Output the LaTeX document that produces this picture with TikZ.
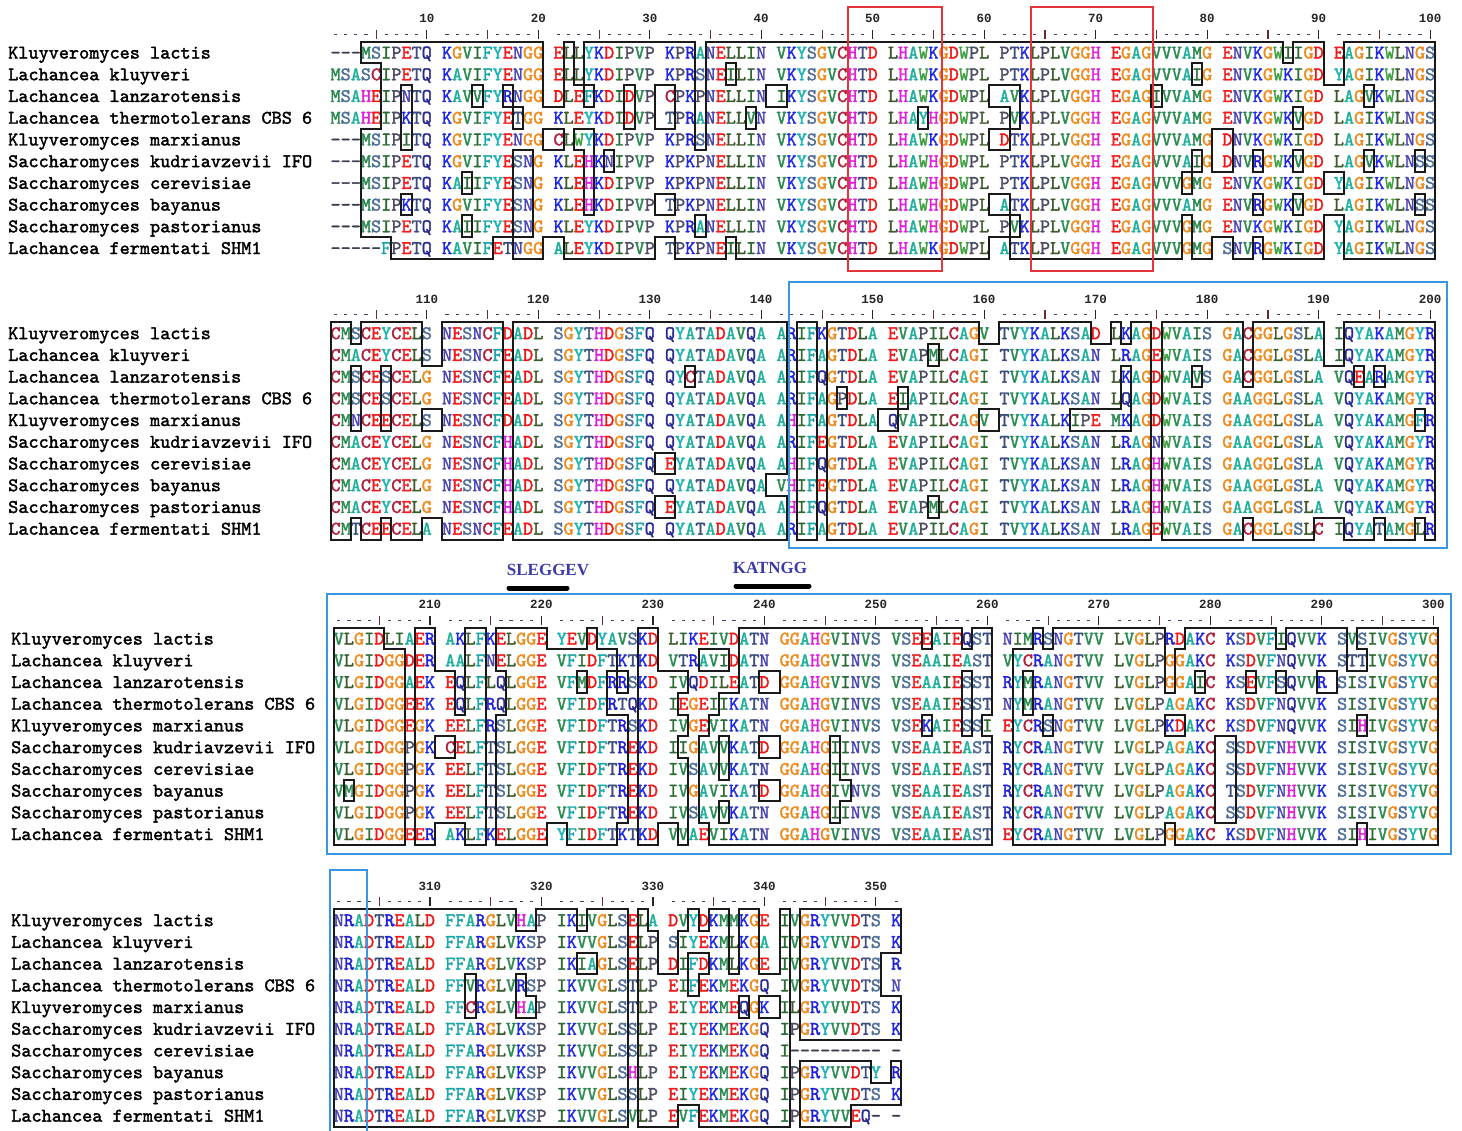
\documentclass[tikz,border=0pt]{standalone}
\usepackage{fontspec}
\newfontfamily\seqfam[FakeBold=1.8]{lmmono10-regular.otf}
\newfontfamily\numfam{Liberation Mono}
\newfontfamily\labfam{Liberation Serif}
\definecolor{aa45}{HTML}{3C3C50}
\definecolor{aa65}{HTML}{1FB09C}
\definecolor{aa66}{HTML}{000000}
\definecolor{aa67}{HTML}{B01E3C}
\definecolor{aa68}{HTML}{F01414}
\definecolor{aa69}{HTML}{EE1C1C}
\definecolor{aa70}{HTML}{1AA5A8}
\definecolor{aa71}{HTML}{F08A1C}
\definecolor{aa72}{HTML}{E01EDC}
\definecolor{aa73}{HTML}{2C6A34}
\definecolor{aa74}{HTML}{000000}
\definecolor{aa75}{HTML}{1E28E6}
\definecolor{aa76}{HTML}{3C5A2C}
\definecolor{aa77}{HTML}{2A8A50}
\definecolor{aa78}{HTML}{4A46B4}
\definecolor{aa79}{HTML}{000000}
\definecolor{aa80}{HTML}{4C4C64}
\definecolor{aa81}{HTML}{2A2A96}
\definecolor{aa82}{HTML}{2020D8}
\definecolor{aa83}{HTML}{4E6E9C}
\definecolor{aa84}{HTML}{3A4C7C}
\definecolor{aa85}{HTML}{000000}
\definecolor{aa86}{HTML}{2A8C50}
\definecolor{aa87}{HTML}{3CA040}
\definecolor{aa88}{HTML}{000000}
\definecolor{aa89}{HTML}{1CB4B4}
\definecolor{aa90}{HTML}{000000}
\definecolor{rulerdot}{HTML}{44445E}
\definecolor{rulerfive}{HTML}{6A2A34}
\definecolor{redline}{HTML}{E4363A}
\definecolor{blueline}{HTML}{3A96E0}
\definecolor{motifblue}{HTML}{3A3AA8}
\newcommand\resfont{\fontsize{19.3pt}{20pt}\selectfont\seqfam}
\newcommand\rnumfont{\fontsize{12.5pt}{13pt}\selectfont\numfam\bfseries}
\tikzset{
  res/.style={anchor=base,inner sep=0pt,font=\resfont},
  nm/.style={anchor=base west,inner sep=0pt,font=\resfont,text=black},
  rnum/.style={anchor=center,inner sep=0pt,font=\rnumfont,text=black!85},
  outl/.style={draw=black!90,line width=2pt,line cap=rect},
  rdot/.style={draw=rulerdot,line width=1.3pt},
  rten/.style={draw=black!85,line width=1.1pt},
  rfive/.style={draw=rulerfive,line width=1.1pt},
  redbox/.style={draw=redline,line width=1.2pt},
  bluebox/.style={draw=blueline,line width=1.2pt},
  motif/.style={font=\fontsize{17pt}{18pt}\selectfont\labfam\bfseries,text=motifblue,inner sep=0pt},
  motifbar/.style={line width=5pt,line cap=round,draw=black}
}
\ExplSyntaxOn
\intarray_new:Nn \g_aln_code_intarray {1110}
\intarray_new:Nn \g_aln_st_intarray {1220}
\int_new:N \g_aln_ncol_int
\int_new:N \l_aln_G_int
\int_new:N \l_aln_code_int
\int_new:N \l_aln_raw_int
\int_new:N \l_aln_flag_int
\int_new:N \l_aln_s_int
\int_new:N \l_aln_cnt_int
\int_new:N \l_aln_pos_int
\int_new:N \l_aln_i_int
\fp_new:N \l_aln_xa_fp
\fp_new:N \l_aln_xb_fp
\fp_new:N \l_aln_ya_fp
\fp_new:N \l_aln_yb_fp
\fp_const:Nn \c_aln_w_fp {10.135}
\fp_const:Nn \c_aln_h_fp {21.72}
\fp_const:Nn \c_aln_bo_fp {6}
\tl_new:N \l_aln_path_tl
\tl_new:N \l_aln_pathb_tl
\tl_new:N \l_aln_pathc_tl
\seq_new:N \g_aln_names_seq
\cs_new:Npn \aln_raw:nn #1#2
  { \intarray_item:Nn \g_aln_code_intarray { (#1 - 1) * 110 + (#2) } }
\cs_new:Npn \aln_code:nn #1#2
  { \int_mod:nn { \aln_raw:nn {#1} {#2} } {1000} }
\cs_new:Npn \aln_up:n #1
  { \int_eval:n { \int_compare:nNnTF {#1} > {96} { (#1) - 32 } {#1} } }
\cs_new:Npn \aln_g:n #1
  { \int_eval:n { (#1) + \int_div_truncate:nn { (#1) - 1 } {10} } }
\cs_new:Npn \aln_st:nn #1#2
  {
    \int_compare:nNnTF {#1} < {1} {0}
      {
        \int_compare:nNnTF {#1} > {10} {0}
          {
            \int_compare:nNnTF {#2} < {1} {0}
              {
                \int_compare:nNnTF {#2} > { \l_aln_G_int } {0}
                  { \intarray_item:Nn \g_aln_st_intarray { (#1 - 1) * 120 + (#2) } }
              }
          }
      }
  }
\cs_new_protected:Npn \aln_draw:nn #1#2 { \draw [#1] #2 ; }
\cs_new_protected:Npn \aln_row:nn #1#2
  {
    \str_set:Nn \l_tmpa_str {#2}
    \str_remove_all:Nn \l_tmpa_str { ~ }
    \int_zero:N \l_aln_i_int
    \int_zero:N \l_aln_flag_int
    \str_map_inline:Nn \l_tmpa_str
      {
        \str_if_eq:nnTF {##1} {+}
          { \int_set:Nn \l_aln_flag_int {1000} }
          {
            \int_incr:N \l_aln_i_int
            \intarray_gset:Nnn \g_aln_code_intarray
              { (#1 - 1) * 110 + \l_aln_i_int } { `##1 + \l_aln_flag_int }
            \int_zero:N \l_aln_flag_int
          }
      }
    \int_gset_eq:NN \g_aln_ncol_int \l_aln_i_int
  }
\cs_new_protected:Npn \aln_status:
  {
    \int_set:Nn \l_aln_G_int { \aln_g:n { \g_aln_ncol_int } }
    \int_step_inline:nn {1220} { \intarray_gset:Nnn \g_aln_st_intarray {##1} {0} }
    \int_step_inline:nn {10}
      {
        \int_step_inline:nn { \g_aln_ncol_int }
          {
            \int_set:Nn \l_aln_raw_int { \aln_raw:nn {##1} {####1} }
            \int_set:Nn \l_aln_code_int { \int_mod:nn { \l_aln_raw_int } {1000} }
            \int_zero:N \l_aln_s_int
            \int_compare:nNnTF { \l_aln_raw_int } > {999}
              { \int_set:Nn \l_aln_s_int {1} }
              {
                \bool_lazy_and:nnT
                  { \int_compare_p:nNn { \l_aln_code_int } > {64} }
                  { \int_compare_p:nNn { \l_aln_code_int } < {91} }
                  {
                    \int_zero:N \l_aln_cnt_int
                    \int_step_inline:nn {10}
                      {
                        \int_compare:nNnT
                          { \aln_up:n { \aln_code:nn {########1} {####1} } } = { \l_aln_code_int }
                          { \int_incr:N \l_aln_cnt_int }
                      }
                    \int_compare:nNnT { \l_aln_cnt_int } > {4}
                      { \int_set:Nn \l_aln_s_int {1} }
                  }
              }
            \intarray_gset:Nnn \g_aln_st_intarray
              { (##1 - 1) * 120 + \aln_g:n {####1} } { \l_aln_s_int }
          }
      }
    \int_step_inline:nn {10}
      {
        \int_step_inline:nnnn {10} {10} { \g_aln_ncol_int - 1 }
          {
            \int_compare:nNnT
              { \aln_st:nn {##1} { \aln_g:n {####1} } + \aln_st:nn {##1} { \aln_g:n {####1 + 1} } } = {2}
              {
                \intarray_gset:Nnn \g_aln_st_intarray
                  { (##1 - 1) * 120 + \aln_g:n {####1} + 1 } {1}
              }
          }
      }
  }
\cs_new_protected:Npn \aln_seg:nnnn #1#2#3#4
  {
    \tl_put_right:Nx \l_aln_path_tl
      { ( \fp_eval:n {#1} , \fp_eval:n {#2} ) -- ( \fp_eval:n {#3} , \fp_eval:n {#4} ) ~ }
  }
\cs_new_protected:Npn \aln_outline:nn #1#2
  {
    \tl_clear:N \l_aln_path_tl
    \int_step_inline:nn {10}
      {
        \int_step_inline:nn { \l_aln_G_int }
          {
            \int_compare:nNnT { \aln_st:nn {##1} {####1} } = {1}
              {
                \fp_set:Nn \l_aln_xa_fp { #1 + (####1 - 1) * \c_aln_w_fp }
                \fp_set:Nn \l_aln_xb_fp { \l_aln_xa_fp + \c_aln_w_fp }
                \fp_set:Nn \l_aln_ya_fp { #2 + (##1 - 1) * \c_aln_h_fp }
                \fp_set:Nn \l_aln_yb_fp { \l_aln_ya_fp + \c_aln_h_fp }
                \int_compare:nNnT { \aln_st:nn {##1 - 1} {####1} } = {0}
                  { \aln_seg:nnnn { \l_aln_xa_fp } { \l_aln_ya_fp } { \l_aln_xb_fp } { \l_aln_ya_fp } }
                \int_compare:nNnT { \aln_st:nn {##1 + 1} {####1} } = {0}
                  { \aln_seg:nnnn { \l_aln_xa_fp } { \l_aln_yb_fp } { \l_aln_xb_fp } { \l_aln_yb_fp } }
                \int_compare:nNnT { \aln_st:nn {##1} {####1 - 1} } = {0}
                  { \aln_seg:nnnn { \l_aln_xa_fp } { \l_aln_ya_fp } { \l_aln_xa_fp } { \l_aln_yb_fp } }
                \int_compare:nNnT { \aln_st:nn {##1} {####1 + 1} } = {0}
                  { \aln_seg:nnnn { \l_aln_xb_fp } { \l_aln_ya_fp } { \l_aln_xb_fp } { \l_aln_yb_fp } }
              }
          }
      }
    \exp_args:NnV \aln_draw:nn { outl } \l_aln_path_tl
  }
\cs_new_protected:Npn \aln_text:nn #1#2
  {
    \int_step_inline:nn {10}
      {
        \int_step_inline:nn { \g_aln_ncol_int }
          {
            \int_set:Nn \l_aln_code_int { \aln_up:n { \aln_code:nn {##1} {####1} } }
            \fp_set:Nn \l_aln_xa_fp { #1 + ( \aln_g:n {####1} - 0.5 ) * \c_aln_w_fp }
            \fp_set:Nn \l_aln_ya_fp { #2 + ( ##1 - 0.5 ) * \c_aln_h_fp + \c_aln_bo_fp }
            \use:x
              {
                \exp_not:N \node [ res , text = aa \int_use:N \l_aln_code_int ] ~ at ~
                  ( \fp_use:N \l_aln_xa_fp , \fp_use:N \l_aln_ya_fp )
                  { \exp_not:N \char \int_use:N \l_aln_code_int \exp_not:N \relax } ;
              }
          }
      }
  }
\cs_new_protected:Npn \aln_ruler:nnn #1#2#3
  {
    \tl_clear:N \l_aln_path_tl
    \tl_clear:N \l_aln_pathb_tl
    \tl_clear:N \l_aln_pathc_tl
    \fp_set:Nn \l_aln_yb_fp { #2 - 7.5 }
    \int_step_inline:nn { \g_aln_ncol_int }
      {
        \int_set:Nn \l_aln_pos_int { #3 + ##1 - 1 }
        \fp_set:Nn \l_aln_xa_fp { #1 + ( \aln_g:n {##1} - 0.5 ) * \c_aln_w_fp }
        \int_compare:nNnTF { \int_mod:nn { \l_aln_pos_int } {10} } = {0}
          {
            \tl_put_right:Nx \l_aln_pathb_tl
              { ( \fp_use:N \l_aln_xa_fp , \fp_eval:n { \l_aln_yb_fp - 4.5 } ) -- ( \fp_use:N \l_aln_xa_fp , \fp_eval:n { \l_aln_yb_fp + 4.5 } ) ~ }
            \use:x
              {
                \exp_not:N \node [ rnum ] ~ at ~ ( \fp_use:N \l_aln_xa_fp , \fp_eval:n { #2 - 23 } ) { \int_use:N \l_aln_pos_int } ;
              }
          }
          {
            \int_compare:nNnTF { \int_mod:nn { \l_aln_pos_int } {5} } = {0}
              {
                \tl_put_right:Nx \l_aln_pathc_tl
                  { ( \fp_use:N \l_aln_xa_fp , \fp_eval:n { \l_aln_yb_fp - 4.5 } ) -- ( \fp_use:N \l_aln_xa_fp , \fp_eval:n { \l_aln_yb_fp + 4.5 } ) ~ }
              }
              {
                \tl_put_right:Nx \l_aln_path_tl
                  { ( \fp_eval:n { \l_aln_xa_fp - 1.6 } , \fp_use:N \l_aln_yb_fp ) -- ( \fp_eval:n { \l_aln_xa_fp + 1.6 } , \fp_use:N \l_aln_yb_fp ) ~ }
              }
          }
      }
    \exp_args:NnV \aln_draw:nn { rdot } \l_aln_path_tl
    \exp_args:NnV \aln_draw:nn { rten } \l_aln_pathb_tl
    \exp_args:NnV \aln_draw:nn { rfive } \l_aln_pathc_tl
  }
\cs_new_protected:Npn \aln_names:nn #1#2
  {
    \seq_map_indexed_inline:Nn \g_aln_names_seq
      {
        \use:x
          {
            \exp_not:N \node [ nm ] ~ at ~ ( #1 , \fp_eval:n { #2 + ( ##1 - 0.5 ) * \c_aln_h_fp + \c_aln_bo_fp } ) { \exp_not:n {##2} } ;
          }
      }
  }
\NewDocumentCommand \AlnRow { m m } { \aln_row:nn {#1} {#2} }
\NewDocumentCommand \AlnNames { m } { \seq_gset_from_clist:Nn \g_aln_names_seq {#1} }
\NewDocumentCommand \AlnBlock { m m m m }
  {
    \aln_status:
    \aln_text:nn {#2} {#3}
    \aln_outline:nn {#2} {#3}
    \aln_ruler:nnn {#2} {#3} {#4}
    \aln_names:nn {#1} {#3}
  }
\ExplSyntaxOff
\AlnNames{Kluyveromyces lactis,Lachancea kluyveri,Lachancea lanzarotensis,Lachancea thermotolerans CBS 6,Kluyveromyces marxianus,Saccharomyces kudriavzevii IFO,Saccharomyces cerevisiae,Saccharomyces bayanus,Saccharomyces pastorianus,Lachancea fermentati SHM1}
\begin{document}
\begin{tikzpicture}[x=1pt,y=-1pt]
\useasboundingbox (0,0) rectangle (1462,1131);
\fill[white] (0,0) rectangle (1462,1131);
% ---------------- block 1 ----------------
\AlnRow{1}{---MSIPETQ KGVIFYENGG ELLYKDIPVP KPRANELLIN VKYSGVCHTD LHAWKGDWPL PTKLPLVGGH EGAGVVVAMG ENVKGWIIGD EAGIKWLNGS}
\AlnRow{2}{MSASCIPETQ KAVIFYENGG ELLYKDIPVP KPRSNEILIN VKYSGVCHTD LHAWKGDWPL PTKLPLVGGH EGAGVVVAIG ENVKGWKIGD YAGIKWLNGS}
\AlnRow{3}{MSAHEIPNTQ KAVVFYRNGG DLEFKDIDVP CPKpNELLIN IKYSGVCHTD LHAWKGDWPL AVKLPLVGGH EGAGIVVAMG ENVKGWKIGD LAGVKWLNGS}
\AlnRow{4}{MSAHEIPKTQ KGVIFYETGG KLEYKDIDVP TPRANELLVN VKYSGVCHTD LHAYHGDWPL PVKLPLVGGH EGAGVVVAMG ENVKGWKVGD LAGIKWLNGS}
\AlnRow{5}{---MSIPITQ KGVIFYENGG CLWyKDIPVP KPRSNELLIN VKYSGVCHTD LHAWKGDWPL DTKLPLVGGH EGAGVVVAMG DNVKGWKIGD LAGIKWLNGS}
\AlnRow{6}{---MSIPETQ KGVIFYESNG KLEHKNIPVP KPKPNELLIN VKYSGVCHTD LHAWHGDWPL PTKLPLVGGH EGAGVVVAIG DNVRGWKVGD LAGVKWLNSS}
\AlnRow{7}{---MSIPETQ KAIIFYESNG KLEHKDIPVP KPKPNELLIN VKYSGVCHTD LHAWHGDWPL PTKLPLVGGH EGAGVVVGMG ENVKGWKIGD YAGIKWLNGS}
\AlnRow{8}{---MSIPKTQ KGVIFYESNG KLEHKDIPVP TPKPNELLIN VKYSGVCHTD LHAWHGDWPL ATKLPLVGGH EGAGVVVAMG ENVRGWKVGD LAGIKWLNSS}
\AlnRow{9}{---MSIPETQ KAIIFYESNG KLEYKDIPVP KPRANELLIN VKYSGVCHTD LHAWHGDWPL PVKLPLVGGH EGAGVVVGMG ENVKGWKIGD YAGIKWLNGS}
\AlnRow{10}{-----FPETQ KAVIFETNGG ALEYKDIPVP TPKPNEILIN VKYSGVCHTD LHAWKGDWPL ATKLPLVGGH EGAGVVVGMG SNVRGWKIGD YAGIKWLNGS}
\AlnBlock{8}{330.5}{41.7}{1}
\draw[redbox] (848,7) rectangle (942,271);
\draw[redbox] (1031,7) rectangle (1153,271);
% ---------------- block 2 ----------------
\AlnRow{1}{CMSCEYCELS NESNCFDADL SGYTHDGSFQ QYATADAVQA ArIFKGTDLA EVAPILCAGV TVYKALKSAD LKAGDWVAIS GACGGLGSLA IQYAKAMGYR}
\AlnRow{2}{CMACEYCELS NESNCFEADL SGYTHDGSFQ QYATADAVQA ArIFAGTDLA EVAPMLCAGI TVYKALKSAN LRAGEWVAIS GACGGLGSLA IQYAKAMGYR}
\AlnRow{3}{CMSCESCELG NESNCFEADL SGYTHDGSFQ QYCTADAVQA ArIFQGTDLA EVAPILCAGI TVYKALKSAN LKAGDWVAVS GACGGLGSLA VQEARAMGYR}
\AlnRow{4}{CMSCESCELG NESNCFEADL SGYTHDGSFQ QYATADAVQA ArIFAGPDLA EIAPILCAGI TVYKALKSAN LQAGDWVAIS GAAGGLGSLA VQYAKAMGYR}
\AlnRow{5}{CMNCEECELS NESNCFDADL SGYTHDGSFQ QYATADAVQA AhIFAGTDLA QVAPILCAGV TVYKALKIPE MKAGDWVAIS GAAGGLGSLA VQYAKAMGFR}
\AlnRow{6}{CMACEYCELG NESNCFHADL SGYTHDGSFQ QYATADAVQA ArIFEGTDLA EVAPILCAGI TVYKALKSAN LRAGNWVAIS GAAGGLGSLA VQYAKAMGYR}
\AlnRow{7}{CMACEYCELG NESNCFHADL SGYTHDGSFQ EYATADAVQA AhIFQGTDLA EVAPILCAGI TVYKALKSAN LRAGHWVAIS GAAGGLGSLA VQYAKAMGYR}
\AlnRow{8}{CMACEYCELG NESNCFHADL SGYTHDGSFQ QYATADAVQA VhIFEGTDLA EVAPILCAGI TVYKALKSAN LRAGHWVAIS GAAGGLGSLA VQYAKAMGYR}
\AlnRow{9}{CMACEYCELG NESNCFHADL SGYTHDGSFQ EYATADAVQA AhIFQGTDLA EVAPMLCAGI TVYKALKSAN LRAGHWVAIS GAAGGLGSLA VQYAKAMGYR}
\AlnRow{10}{CMTCEECELA NESNCFEADL SGYTHDGSFQ QYATADAVQA ArIFAGTDLA EVAPILCAGI TVYKALKSAN LRAGEWVAIS GACGGLGSLC IQYATAMGLR}
\AlnBlock{8}{330.5}{322.3}{101}
\draw[bluebox] (789,282) rectangle (1447,548);
% ---------------- block 3 ----------------
\AlnRow{1}{VLGIDLIAE+R AKLFK+ELGGE YEVDYAVSKD LIKEIVDATN GGAHGVINVS VSEEAIEQST nIMRSNGTVV LVGLPRDAKC KSDVFIQVVK SVSIVGSYVG}
\AlnRow{2}{VLGIDGGDE+R AALFN+ELGGE VFIDFTKTKD VTRAVIDATN GGAHGVINVS VSEAAIEAST vYCRANGTVV LVGLPGGAKC KSDVFNQVVK STTIVGSYVG}
\AlnRow{3}{VLGIDGGAEK EQLFLQLGGE VFMDFRRSKD IVQDILEATD GGAHGVINVS VSEAAIESST rYMRANGTVV LVGLPGGAIC KSEVFSQVVR SISIVGSYVG}
\AlnRow{4}{VLGIDGGEEK EQLFRQLGGE VFIDFRTQKD IEGEIIKATN GGAHGVINVS VSEAAIESST nYMRANGTVV LVGLPAGAKC KSDVFNQVVK SISIVGSYVG}
\AlnRow{5}{VLGIDGGEGK EELFRSLGGE VFIDFTRSKD IVGEVIKATN GGAHGVINVS VSEKAIESSI eYCRSNGTVV LVGLPKDAKC KSDVFNQVVK SIHIVGSYVG}
\AlnRow{6}{VLGIDGGPGK CELFTSLGGE VFIDFTREKD IIGAVVKATD GGAHGIINVS VSEAAIEAST rYCRANGTVV LVGLPAGAKC SSDVFNHVVK SISIVGSYVG}
\AlnRow{7}{VLGIDGGPGK EELFTSLGGE VFIDFTREKD IVSAVVKATN GGAHGIINVS VSEAAIEAST rYCRANGTVV LVGLPAGAKC SSDVFNHVVK SISIVGSYVG}
\AlnRow{8}{VMGIDGGPGK EELFTSLGGE VFIDFTREKD IVGAVIKATD GGAHGIVNVS VSEAAIEAST rYCRANGTVV LVGLPAGAKC TSDVFNHVVK SISIVGSYVG}
\AlnRow{9}{VLGIDGGPGK EELFTSLGGE VFIDFTREKD IVSAVVKATN GGAHGIINVS VSEAAIEAST rYCRANGTVV LVGLPAGAKC SSDVFNHVVK SISIVGSYVG}
\AlnRow{10}{VLGIDGGEE+R AKLFK+ELGGE YFIDFTKTKD VVAEVIKATN GGAHGVINVS VSEAAIEAST eYCRANGTVV LVGLPGGAKC KSDVFNHVVK SIHIVGSYVG}
\AlnBlock{11}{333.7}{627.7}{201}
\draw[bluebox] (327,594) rectangle (1451,854);
\node[motif] (sleggev) at (548,570) {SLEGGEV};
\node[motif] (katngg) at (770,568) {KATNGG};
\coordinate (bara) at (509,588);
\coordinate (barb) at (567,588);
\coordinate (barc) at (736,586);
\coordinate (bard) at (809,586);
\draw[motifbar] (bara) -- (barb);
\draw[motifbar] (barc) -- (bard);
% ---------------- block 4 ----------------
\AlnRow{1}{NRADTREALD FFARGLVHAP IKIVGLSELA DVYDKMMKGE IVGRYVVDTS K}
\AlnRow{2}{NRADTREALD FFARGLVKSP IKVVGLSELP SIYEKMLKGA IVGRYVVDTS K}
\AlnRow{3}{NRADTREALD FFARGLVKSP IKIAGLSELP DIFDKMLKGE IVGRYVVDTS R}
\AlnRow{4}{NRADTREALD FFVRGLVRSP IKVVGLSTLP EIFEKMEKGQ IVGRYVVDTS N}
\AlnRow{5}{NRADTREALD FFCRGLVHAP IKVVGLSTLP EIYEKMEQGK ILGRYVVDTS K}
\AlnRow{6}{NRADTREALD FFARGLVKSP IKVVGLSSLP EIYEKMEKGQ IPGRYVVDTS K}
\AlnRow{7}{NRADTREALD FFARGLVKSP IKVVGLSSLP EIYEKMEKGQ I--------- -}
\AlnRow{8}{NRADTREALD FFARGLVKSP IKVVGLSHLP EIYEKMEKGQ IPGRYVVDTY +R}
\AlnRow{9}{NRADTREALD FFARGLVKSP IKVVGLSSLP EIYEKMEKGQ IPGRYVVDTS K}
\AlnRow{10}{NRADTREALD FFARGLVKSP IKVVGLSVLP EVFEKMEKGQ IPGRYVVEQ- -}
\AlnBlock{11}{333.7}{909.3}{301}
\draw[bluebox] (330,1133) -- (330,870) -- (367,870) -- (367,1133);
\end{tikzpicture}
\end{document}
